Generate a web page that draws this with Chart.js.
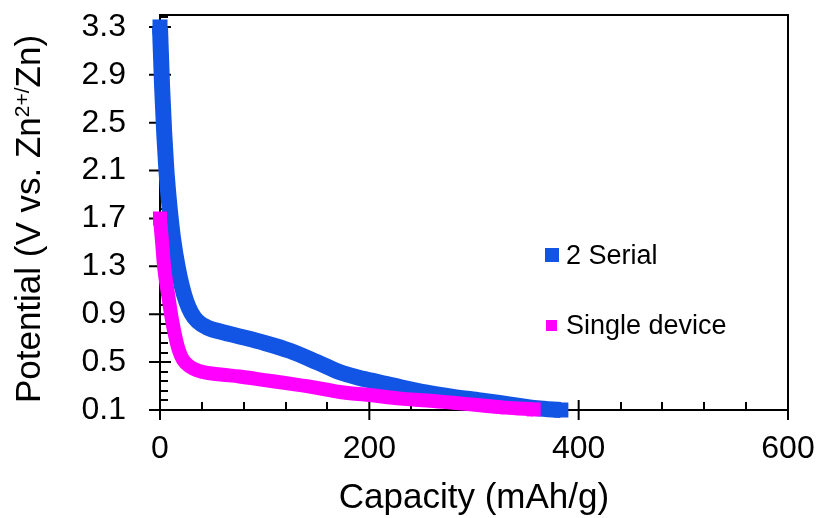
<!DOCTYPE html>
<html><head><meta charset="utf-8">
<script src="https://cdn.jsdelivr.net/npm/chart.js@4/dist/chart.umd.min.js"></script>
<style>html,body{margin:0;padding:0;background:#fff}#wrap{width:818px;height:518px}</style>
</head><body><div id="wrap"><canvas id="c" width="818" height="518"></canvas></div>
<script>
// ---- data ----
const seriesNames = ['2 Serial', 'Single device'];
const serialCapacity = [0,2,4,6,8,10,13,17,21,25,30,36,45,60,76,100,124,150,172,190,210,230,255,280,306,335,360,383];
const serialPotential = [3.3,2.8,2.42,2.12,1.9,1.72,1.5,1.29,1.13,1.01,0.91,0.84,0.79,0.75,0.715,0.66,0.595,0.5,0.415,0.37,0.33,0.29,0.245,0.21,0.18,0.145,0.115,0.1];
const singleCapacity = [0,2,4,8,11,15,18,22,29,36,45,60,76,100,124,150,172,200,230,255,280,306,330,357];
const singlePotential = [1.7,1.5,1.29,1.05,0.875,0.7,0.6,0.52,0.46,0.43,0.41,0.395,0.38,0.35,0.32,0.285,0.25,0.225,0.195,0.18,0.16,0.14,0.12,0.105];
const xTickLabels = [0, 200, 400, 600];
const yTickLabels = [0.1, 0.5, 0.9, 1.3, 1.7, 2.1, 2.5, 2.9, 3.3];
const xTitle = 'Capacity (mAh/g)';
const yTitleParts = ['Potential (V vs. Zn', '2+/', 'Zn)'];

const FONT = "'Liberation Sans', Arial, sans-serif";
const blue = '#1254E3';
const magenta = '#FF00FF';

function pts(xs, ys){ return xs.map((v,i)=>({x:v, y:ys[i]})); }
function endRadius(n, r){ return ctx => (ctx.dataIndex === 0 || ctx.dataIndex === n-1) ? r : 0; }

const axesPlugin = {
  id: 'axesDraw',
  beforeDatasetsDraw(chart){
    const {ctx, chartArea: a, scales: {x, y}} = chart;
    ctx.save();
    ctx.strokeStyle = '#000'; ctx.lineWidth = 2; ctx.lineCap = 'butt';
    ctx.beginPath();
    ctx.moveTo(a.left, a.bottom + 10); ctx.lineTo(a.left, a.top); ctx.lineTo(a.right, a.top); ctx.lineTo(a.right, a.bottom + 10);
    ctx.moveTo(a.left - 11, a.bottom); ctx.lineTo(a.right, a.bottom);
    yTickLabels.forEach(v => { const p = y.getPixelForValue(v); ctx.moveTo(a.left - 11, p); ctx.lineTo(a.left + 11, p); });
    const ys = yTickLabels[1] - yTickLabels[0];
    for (let v = yTickLabels[0]; v < y.max; v += ys) {
      for (let k = 1; k < 5; k++) {
        const mv = v + ys * k / 5;
        if (mv > y.max) break;
        const p = Math.round(y.getPixelForValue(mv));
        ctx.moveTo(a.left, p); ctx.lineTo(a.left + 8, p);
      }
    }
    xTickLabels.forEach(v => { const p = x.getPixelForValue(v); ctx.moveTo(p, a.bottom - 10); ctx.lineTo(p, a.bottom + 10); });
    const xs = xTickLabels[1] - xTickLabels[0];
    for (let i = 0; i < xTickLabels.length - 1; i++) {
      for (let k = 1; k < 5; k++) {
        const p = Math.round(x.getPixelForValue(xTickLabels[i] + xs * k / 5));
        ctx.moveTo(p, a.bottom); ctx.lineTo(p, a.bottom - 8);
      }
    }
    ctx.stroke();
    ctx.restore();
  },
  afterDraw(chart){
    const {ctx, chartArea: a} = chart;
    ctx.save();
    ctx.fillStyle = '#000';
    ctx.font = `35px ${FONT}`;
    ctx.textAlign = 'center'; ctx.textBaseline = 'alphabetic';
    ctx.fillText(xTitle, (a.left + a.right) / 2, 508);
    ctx.translate(40, 219);
    ctx.rotate(-Math.PI / 2);
    ctx.textAlign = 'left';
    const big = `35px ${FONT}`, small = `21px ${FONT}`;
    ctx.font = big; const w0 = ctx.measureText(yTitleParts[0]).width; const w2 = ctx.measureText(yTitleParts[2]).width;
    ctx.font = small; const w1 = ctx.measureText(yTitleParts[1]).width;
    let px = -(w0 + w1 + w2) / 2;
    ctx.font = big; ctx.fillText(yTitleParts[0], px, 0); px += w0;
    ctx.font = small; ctx.fillText(yTitleParts[1], px, -11); px += w1;
    ctx.font = big; ctx.fillText(yTitleParts[2], px, 0);
    ctx.restore();
  },
  afterDatasetsDraw(chart){
    const {ctx} = chart;
    ctx.save();
    ctx.font = `27px ${FONT}`; ctx.textBaseline = 'alphabetic'; ctx.textAlign = 'left';
    const ds = chart.data.datasets;
    ctx.fillStyle = ds[0].borderColor; ctx.fillRect(545, 248, 14, 14);
    ctx.fillStyle = '#000'; ctx.fillText(ds[0].label, 566, 264);
    ctx.fillStyle = ds[1].borderColor; ctx.fillRect(546, 320, 11, 11);
    ctx.fillStyle = '#000'; ctx.fillText(ds[1].label, 566, 334);
    ctx.restore();
  }
};

new Chart(document.getElementById('c'), {
  type: 'scatter',
  data: {
    datasets: [
      { label: seriesNames[0], data: pts(serialCapacity, serialPotential), showLine: true,
        borderColor: blue, backgroundColor: blue, borderWidth: 16, borderJoinStyle: 'round',
        cubicInterpolationMode: 'monotone', pointStyle: 'rect', pointRadius: endRadius(serialCapacity.length, 10.6),
        pointBorderWidth: 0, pointHoverRadius: 0, clip: false, order: 2 },
      { label: seriesNames[1], data: pts(singleCapacity, singlePotential), showLine: true,
        borderColor: magenta, backgroundColor: magenta, borderWidth: 14, borderJoinStyle: 'round',
        cubicInterpolationMode: 'monotone', pointStyle: 'rect', pointRadius: endRadius(singleCapacity.length, 9.9),
        pointBorderWidth: 0, pointHoverRadius: 0, clip: false, order: 1 }
    ]
  },
  options: {
    responsive: false, devicePixelRatio: 1, animation: false,
    layout: { padding: { top: 15, right: 30, left: 0, bottom: 0 } },
    plugins: { legend: { display: false }, tooltip: { enabled: false } },
    scales: {
      x: {
        type: 'linear', min: xTickLabels[0], max: xTickLabels[xTickLabels.length - 1],
        afterBuildTicks: s => { s.ticks = xTickLabels.map(v => ({ value: v })); },
        afterFit: s => { s.height = 108; s.paddingLeft = 0; s.paddingRight = 0; },
        grid: { display: false, drawTicks: false }, border: { display: false },
        ticks: { font: { size: 32, family: FONT }, color: '#000', padding: 20, maxRotation: 0, autoSkip: false }
      },
      y: {
        type: 'linear', min: 0.1, max: 3.4,
        afterBuildTicks: s => { s.ticks = yTickLabels.map(v => ({ value: v })); },
        afterFit: s => { s.width = 160; s.paddingTop = 0; s.paddingBottom = 0; },
        grid: { display: false, drawTicks: false }, border: { display: false },
        ticks: { font: { size: 32, family: FONT }, color: '#000', padding: 34, autoSkip: false,
                 callback: v => v.toFixed(1) }
      }
    }
  },
  plugins: [axesPlugin]
});
</script>
</body></html>
